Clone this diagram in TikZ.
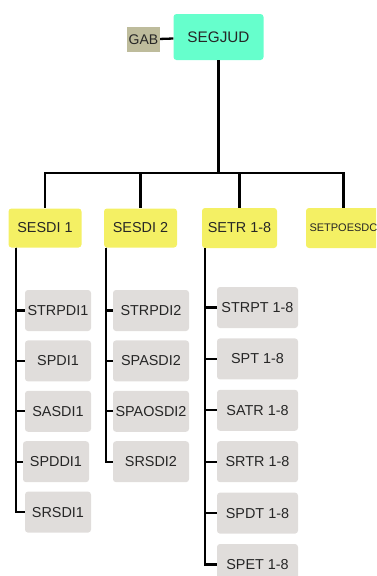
\documentclass[tikz,border=0pt]{standalone}
\usepackage{fontspec}
\setmainfont{Liberation Sans}
\usepackage{tikz}
\usetikzlibrary{positioning}
\definecolor{segcol}{HTML}{66FFCC}
\definecolor{gabcol}{HTML}{BEBC9C}
\definecolor{seccol}{HTML}{F4F064}
\definecolor{unitcol}{HTML}{E0DDDB}
\tikzset{
  x=1pt, y=-1pt, node distance=9pt,
  box/.style={rounded corners=3pt, inner sep=0pt, align=center, text=black!85,
    font=\fontsize{14.4}{16}\selectfont},
  head/.style={box, fill=segcol, minimum width=90pt, minimum height=46pt,
    font=\fontsize{15.3}{17}\selectfont},
  gabbox/.style={box, rounded corners=0pt, fill=gabcol, minimum width=33pt,
    minimum height=25pt, font=\fontsize{14}{16}\selectfont},
  sec/.style={box, fill=seccol, minimum width=73pt, minimum height=39pt},
  unit/.style={box, fill=unitcol, minimum height=41pt},
  link/.style={draw=black, line width=2.3pt}
  }

\begin{document}
\begin{tikzpicture}
    \useasboundingbox (0,0) rectangle (376,576);
    \clip (0,0) rectangle (376,576);

    \node [head] at (218.5,37) (segjud) {SEGJUD};
    \node [gabbox] at (143.5,39.5) (gab) {GAB};

    \node [sec] at (45,228) (sesdi1) {SESDI 1};
    \node [sec] at (140.5,228) (sesdi2) {SESDI 2};
    \node [sec, minimum width=75pt, minimum height=40pt] at (239.5,228) (setr) {SETR 1-8};
    \node [sec, minimum width=75pt, minimum height=40pt, font=\fontsize{11}{13}\selectfont,
      text width=68pt, align=left] at (343.5,228) (setpoesdc) {SETPOESDC};

    \node [unit, minimum width=66pt] at (58,310.5) (strpdi1) {STRPDI1};
    \node [unit, minimum width=66pt, below=of strpdi1] (spdi1) {SPDI1};
    \node [unit, minimum width=66pt, below=of spdi1] (sasdi1) {SASDI1};
    \node [unit, minimum width=66pt, below=of sasdi1, xshift=-2pt] (spddi1) {SPDDI1};
    \node [unit, minimum width=66pt, below=of spddi1, xshift=2pt] (srsdi1) {SRSDI1};

    \node [unit, minimum width=76pt] at (151,310.5) (strpdi2) {STRPDI2};
    \node [unit, minimum width=76pt, below=of strpdi2] (spasdi2) {SPASDI2};
    \node [unit, minimum width=76pt, below=of spasdi2] (spaosdi2) {SPAOSDI2};
    \node [unit, minimum width=76pt, below=of spaosdi2] (srsdi2) {SRSDI2};

    \node [unit, minimum width=81pt] at (257.5,307.5) (strpt) {STRPT 1-8};
    \node [unit, minimum width=81pt, below=10pt of strpt] (spt) {SPT 1-8};
    \node [unit, minimum width=81pt, below=10pt of spt] (satr) {SATR 1-8};
    \node [unit, minimum width=81pt, below=10pt of satr] (srtr) {SRTR 1-8};
    \node [unit, minimum width=81pt, below=10pt of srtr] (spdt) {SPDT 1-8};
    \node [unit, minimum width=81pt, below=10pt of spdt] (spet) {SPET 1-8};

    \draw [link] (gab) -- (segjud);
    \draw [link] (segjud.south) -- ++(0,113) -| (sesdi1.north);
    \draw [link] (segjud.south) -- ++(0,113) -| (sesdi2.north);
    \draw [link] (segjud.south) -- ++(0,113) -| (setr.north);
    \draw [link] (segjud.south) -- ++(0,113) -| (setpoesdc.north);

    \draw [link] ([xshift=8pt]sesdi1.south west) |- (strpdi1.west);
    \draw [link] ([xshift=8pt]sesdi1.south west) |- (spdi1.west);
    \draw [link] ([xshift=8pt]sesdi1.south west) |- (sasdi1.west);
    \draw [link] ([xshift=8pt]sesdi1.south west) |- (spddi1.west);
    \draw [link] ([xshift=8pt]sesdi1.south west) |- (srsdi1.west);

    \draw [link] ([xshift=2pt]sesdi2.south west) |- (strpdi2.west);
    \draw [link] ([xshift=2pt]sesdi2.south west) |- (spasdi2.west);
    \draw [link] ([xshift=2pt]sesdi2.south west) |- (spaosdi2.west);
    \draw [link] ([xshift=2pt]sesdi2.south west) |- (srsdi2.west);

    \draw [link] ([xshift=3pt]setr.south west) |- (strpt.west);
    \draw [link] ([xshift=3pt]setr.south west) |- (spt.west);
    \draw [link] ([xshift=3pt]setr.south west) |- (satr.west);
    \draw [link] ([xshift=3pt]setr.south west) |- (srtr.west);
    \draw [link] ([xshift=3pt]setr.south west) |- (spdt.west);
    \draw [link] ([xshift=3pt]setr.south west) |- (spet.west);

\end{tikzpicture}
\end{document}
